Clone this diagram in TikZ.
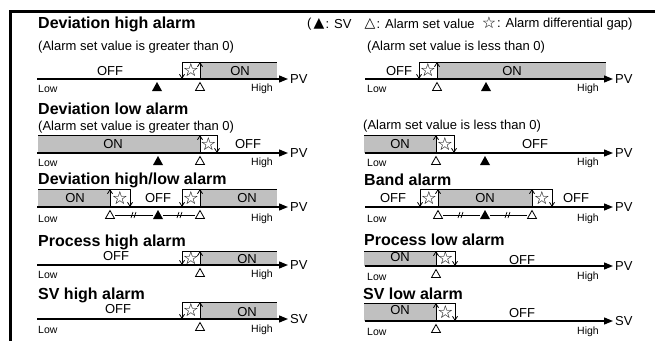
\documentclass[tikz,border=0pt]{standalone}
\usepackage{fontspec}
\setmainfont{Liberation Sans}
\newfontfamily\symfont{DejaVu Sans}
\usetikzlibrary{arrows.meta}
\definecolor{ongrey}{RGB}{192,192,192}
\tikzset{
  axisline/.style={line width=1.3pt,-{Triangle[length=9pt,width=7pt]}},
  hysarrow/.style={line width=0.8pt,-{Straight Barb[length=4pt,width=5pt]}},
  topline/.style={line width=1pt},
  onfill/.style={fill=ongrey},
  titletext/.style={anchor=west,inner sep=0pt,font=\fontsize{16}{18}\selectfont\bfseries},
  subtext/.style={anchor=west,inner sep=0pt,font=\fontsize{13}{15}\selectfont},
  statetext/.style={inner sep=0pt,font=\fontsize{13}{15}\selectfont},
  axistext/.style={anchor=west,inner sep=0pt,font=\fontsize{13}{15}\selectfont},
  smalltext/.style={inner sep=0pt,font=\fontsize{10.5}{12}\selectfont},
  startext/.style={inner sep=0pt,font=\symfont\fontsize{18}{18}\selectfont},
  legtext/.style={anchor=west,inner sep=0pt,font=\fontsize{13}{15}\selectfont},
  legsym/.style={inner sep=0pt,font=\symfont\fontsize{14}{14}\selectfont},
  legstar/.style={inner sep=0pt,font=\symfont\fontsize{16}{16}\selectfont},
  solidmark/.pic={\fill (-5,12) -- (0,3) -- (5,12) -- cycle;},
  hollowmark/.pic={\draw[line width=0.8pt,fill=white] (-4.5,11.5) -- (0,3.5) -- (4.5,11.5) -- cycle;},
  gapmark/.pic={\draw[line width=0.7pt] (-3,3) -- (-1,-3) (0,3) -- (2,-3);}
}
% #1 name, #2 x of down arrow, #3 x of up arrow, #4 top, #5 axis
\newcommand\hysteresis[5]{%
  \coordinate (#1dt) at (#2,#4); \coordinate (#1db) at (#2,#5);
  \coordinate (#1ub) at (#3,#5); \coordinate (#1ut) at (#3,#4);
  \draw[hysarrow] (#1dt) -- (#1db);
  \draw[hysarrow] (#1ub) -- (#1ut);
  \node[startext] (#1s) at ({(#2+#3)/2},{(#4+#5)/2}) {☆};}
% #1 name, #2 x start, #3 x end, #4 y, #5 label
\newcommand\axisrow[5]{%
  \coordinate (#1s) at (#2,#4); \coordinate (#1e) at (#3,#4);
  \draw[axisline] (#1s) -- (#1e);
  \node[axistext] (#1l) at ({#3+2},#4) {#5};}
\begin{document}
\begin{tikzpicture}[x=1pt,y=-1pt]
\useasboundingbox (0,0) rectangle (655,340);
% frame
\coordinate (fb) at (10,345); \coordinate (fc) at (10,11.5); \coordinate (fr) at (660,11.5);
\draw[line width=3pt] (fb) -- (fc) -- (fr);

% legend
\node[titletext] (t1) at (38,24) {Deviation high alarm};
\node[legtext] (lg1) at (307,24) {(};
\node[legsym] (lg2) at (319,23.5) {▲};
\node[legtext] (lg3) at (325.5,24) {: SV};
\node[legsym] (lg4) at (370,23.5) {△};
\node[legtext] (lg5) at (376.5,24) {: Alarm set value};
\node[legstar] (lg6) at (489,23) {☆};
\node[legtext] (lg7) at (497,24) {: Alarm differential gap)};

% ===== Row 1 left
\node[subtext] (s1) at (38,47) {(Alarm set value is greater than 0)};
\fill[onfill] (200,62) rectangle (277,79);
\draw[topline] (182,62) -- (277,62);
\hysteresis{h1}{182}{200}{62}{79}
\axisrow{a1}{37}{288}{79}{PV}
\node[statetext] (o1) at (110,71) {OFF};
\node[statetext] (n1) at (240,71) {ON};
\pic at (157,79) {solidmark};
\pic at (200,79) {hollowmark};
\node[smalltext,anchor=west] (lo1) at (38,89) {Low};
\node[smalltext] (hi1) at (262,89) {High};

% ===== Row 1 right
\node[subtext] (s2) at (367,47) {(Alarm set value is less than 0)};
\fill[onfill] (437,62) rectangle (606,79);
\draw[topline] (419,62) -- (606,62);
\hysteresis{h2}{419}{437}{62}{79}
\axisrow{a2}{365}{613}{79}{PV}
\node[statetext] (o2) at (399,71) {OFF};
\node[statetext] (n2) at (512,71) {ON};
\pic at (437,79) {hollowmark};
\pic at (486,79) {solidmark};
\node[smalltext,anchor=west] (lo2) at (367,89) {Low};
\node[smalltext] (hi2) at (588,89) {High};

% ===== Row 2 left
\node[titletext] (t2) at (38,109) {Deviation low alarm};
\node[subtext] (s3) at (38,127) {(Alarm set value is greater than 0)};
\fill[onfill] (38,135) rectangle (200,153);
\draw[topline] (38,135) -- (217,135);
\hysteresis{h3}{217}{200}{135}{153}
\axisrow{a3}{37}{288}{153}{PV}
\node[statetext] (n3) at (113,144) {ON};
\node[statetext] (o3) at (248,144) {OFF};
\pic at (158,153) {solidmark};
\pic at (200,153) {hollowmark};
\node[smalltext,anchor=west] (lo3) at (38,163) {Low};
\node[smalltext] (hi3) at (262,163) {High};

% ===== Row 2 right
\node[subtext] (s4) at (363,126) {(Alarm set value is less than 0)};
\fill[onfill] (364,135) rectangle (436,153);
\draw[topline] (364,135) -- (454,135);
\hysteresis{h4}{454}{436}{135}{153}
\axisrow{a4}{365}{613}{153}{PV}
\node[statetext] (n4) at (400,144) {ON};
\node[statetext] (o4) at (535,144) {OFF};
\pic at (436,153) {hollowmark};
\pic at (485,153) {solidmark};
\node[smalltext,anchor=west] (lo4) at (367,163) {Low};
\node[smalltext] (hi4) at (588,163) {High};

% ===== Row 3 left
\node[titletext] (t3) at (38,180) {Deviation high/low alarm};
\fill[onfill] (38,189) rectangle (110,207);
\fill[onfill] (200,189) rectangle (277,207);
\draw[topline] (38,189) -- (130,189);
\draw[topline] (182,189) -- (277,189);
\hysteresis{h5}{130}{110}{189}{207}
\hysteresis{h6}{182}{200}{189}{207}
\axisrow{a5}{37}{288}{207}{PV}
\node[statetext] (n5) at (75,198) {ON};
\node[statetext] (o5) at (158,198) {OFF};
\node[statetext] (n6) at (247,198) {ON};
\coordinate (c5a) at (115,215); \coordinate (c5b) at (153,215);
\coordinate (c5c) at (163,215); \coordinate (c5d) at (195,215);
\draw[line width=0.8pt] (c5a) -- (c5b) (c5c) -- (c5d);
\pic at (134,215) {gapmark};
\pic at (180,215) {gapmark};
\pic at (110,207) {hollowmark};
\pic at (158,207) {solidmark};
\pic at (200,207) {hollowmark};
\node[smalltext,anchor=west] (lo5) at (38,219) {Low};
\node[smalltext] (hi5) at (262,219) {High};

% ===== Row 3 right
\node[titletext] (t4) at (364,180) {Band alarm};
\fill[onfill] (438,189) rectangle (532,207);
\draw[topline] (420,189) -- (552,189);
\hysteresis{h7}{420}{438}{189}{207}
\hysteresis{h8}{552}{532}{189}{207}
\axisrow{a6}{365}{613}{207}{PV}
\node[statetext] (o7) at (393,198) {OFF};
\node[statetext] (n7) at (485,198) {ON};
\node[statetext] (o8) at (576,198) {OFF};
\coordinate (c7a) at (443,215); \coordinate (c7b) at (480,215);
\coordinate (c7c) at (490,215); \coordinate (c7d) at (527,215);
\draw[line width=0.8pt] (c7a) -- (c7b) (c7c) -- (c7d);
\pic at (461,215) {gapmark};
\pic at (508,215) {gapmark};
\pic at (438,207) {hollowmark};
\pic at (485,207) {solidmark};
\pic at (532,207) {hollowmark};
\node[smalltext,anchor=west] (lo7) at (367,219) {Low};
\node[smalltext] (hi7) at (588,219) {High};

% ===== Row 4 left
\node[titletext] (t5) at (38,242) {Process high alarm};
\fill[onfill] (200,251) rectangle (277,265);
\draw[topline] (182,251) -- (277,251);
\hysteresis{h9}{182}{200}{251}{265}
\axisrow{a7}{37}{288}{265}{PV}
\node[statetext] (o9) at (116,256) {OFF};
\node[statetext] (n9) at (247,259) {ON};
\pic at (200,265) {hollowmark};
\node[smalltext,anchor=west] (lo9) at (38,275) {Low};
\node[smalltext] (hi9) at (262,275) {High};

% ===== Row 4 right
\node[titletext] (t6) at (364,240) {Process low alarm};
\fill[onfill] (364,251) rectangle (436,266);
\draw[topline] (364,251) -- (455,251);
\hysteresis{h10}{455}{436}{251}{266}
\axisrow{a8}{365}{613}{266}{PV}
\node[statetext] (n10) at (400,257) {ON};
\node[statetext] (o10) at (522,260) {OFF};
\pic at (436,266) {hollowmark};
\node[smalltext,anchor=west] (lo10) at (367,277) {Low};
\node[smalltext] (hi10) at (588,277) {High};

% ===== Row 5 left
\node[titletext] (t7) at (38,295) {SV high alarm};
\fill[onfill] (200,302) rectangle (277,319);
\draw[topline] (182,302) -- (277,302);
\hysteresis{h11}{182}{200}{302}{319}
\axisrow{a9}{37}{288}{319}{SV}
\node[statetext] (o11) at (118,309) {OFF};
\node[statetext] (n11) at (247,312) {ON};
\pic at (200,319) {hollowmark};
\node[smalltext,anchor=west] (lo11) at (38,330) {Low};
\node[smalltext] (hi11) at (262,330) {High};

% ===== Row 5 right
\node[titletext] (t8) at (363,294) {SV low alarm};
\fill[onfill] (364,303) rectangle (436,321);
\draw[topline] (364,303) -- (455,303);
\hysteresis{h12}{455}{436}{303}{321}
\axisrow{a10}{365}{613}{321}{SV}
\node[statetext] (n12) at (400,310) {ON};
\node[statetext] (o12) at (522,313) {OFF};
\pic at (436,321) {hollowmark};
\node[smalltext,anchor=west] (lo12) at (367,332) {Low};
\node[smalltext] (hi12) at (588,332) {High};
\end{tikzpicture}
\end{document}
